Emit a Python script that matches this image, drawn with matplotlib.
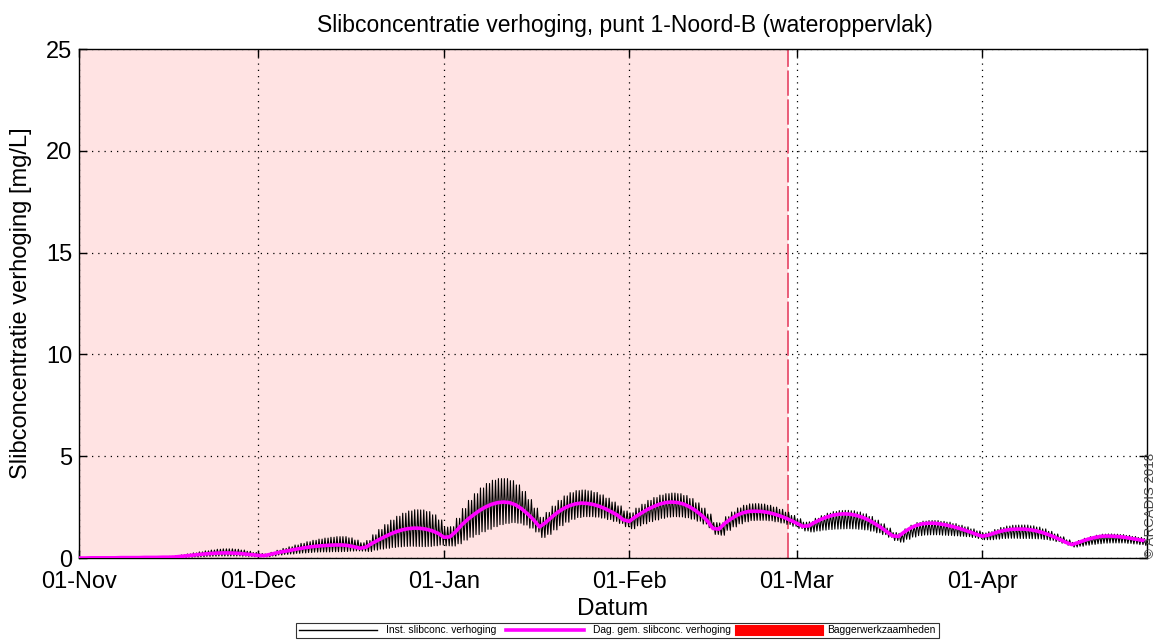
import matplotlib
matplotlib.use('Agg')
import matplotlib.pyplot as plt
import matplotlib.dates as mdates
from matplotlib.lines import Line2D
import numpy as np
import pandas as pd

plt.rcParams['font.family'] = ['Liberation Sans', 'DejaVu Sans']

start = pd.Timestamp('2017-11-01')
dredge_end = pd.Timestamp('2018-02-27 14:00')
x_end = pd.Timestamp('2018-04-28 14:00')

# daglijks gemiddelde slibconcentratie verhoging [mg/L], vanaf 01-Nov
dag_gem = [
    0.00, 0.00, 0.01, 0.01, 0.01, 0.01, 0.01, 0.02, 0.02, 0.02, 0.02, 0.03, 0.03, 0.03, 0.04, 0.04,
    0.05, 0.08, 0.11, 0.14, 0.17, 0.20, 0.22, 0.24, 0.25, 0.25, 0.24, 0.22, 0.19, 0.16, 0.13,
    0.12, 0.18, 0.25, 0.31, 0.36, 0.42, 0.47, 0.52, 0.56, 0.59, 0.61, 0.63, 0.64, 0.64, 0.61, 0.55, 0.48,
    0.54, 0.72, 0.88, 1.03, 1.17, 1.29, 1.38, 1.44, 1.47, 1.46, 1.42, 1.34, 1.22, 1.02,
    1.04, 1.30, 1.63, 1.90, 2.13, 2.34, 2.51, 2.64, 2.72, 2.75, 2.72, 2.61, 2.42, 2.17, 1.88, 1.53,
    1.74, 2.00, 2.24, 2.43, 2.57, 2.66, 2.70, 2.68, 2.63, 2.54, 2.42, 2.27, 2.11, 1.88,
    1.80, 2.02, 2.20, 2.38, 2.52, 2.64, 2.72, 2.75, 2.73, 2.66, 2.53, 2.35, 2.12, 1.85, 1.45,
    1.42, 1.71, 1.92, 2.10, 2.22, 2.29, 2.30, 2.29, 2.25, 2.18, 2.09, 1.98, 1.85, 1.71, 1.56,
    1.58, 1.75, 1.89, 2.01, 2.10, 2.15, 2.17, 2.15, 2.09, 2.00, 1.87, 1.70, 1.52, 1.31, 1.09,
    1.06, 1.28, 1.47, 1.60, 1.68, 1.71, 1.71, 1.67, 1.62, 1.55, 1.47, 1.38, 1.28, 1.17, 1.07,
    1.12, 1.22, 1.31, 1.37, 1.41, 1.42, 1.42, 1.39, 1.34, 1.26, 1.16, 1.04, 0.91, 0.77, 0.66,
    0.75, 0.86, 0.95, 1.02, 1.07, 1.08, 1.07, 1.05, 1.01, 0.96, 0.91, 0.86,
]

# getij-uitslag van de momentane waarde boven het daggemiddelde
getij_boven = [
    0.00, 0.00, 0.01, 0.01, 0.01, 0.01, 0.01, 0.01, 0.02, 0.02, 0.02, 0.02, 0.03, 0.03, 0.03, 0.04,
    0.05, 0.07, 0.09, 0.11, 0.13, 0.15, 0.17, 0.19, 0.20, 0.20, 0.19, 0.17, 0.14, 0.11, 0.09,
    0.08, 0.10, 0.13, 0.16, 0.19, 0.22, 0.25, 0.28, 0.31, 0.34, 0.37, 0.39, 0.41, 0.41, 0.38, 0.33, 0.27,
    0.32, 0.42, 0.52, 0.61, 0.69, 0.76, 0.82, 0.87, 0.90, 0.90, 0.86, 0.78, 0.65, 0.50,
    0.50, 0.65, 0.80, 0.93, 1.03, 1.10, 1.15, 1.18, 1.18, 1.15, 1.08, 0.98, 0.85, 0.70, 0.57, 0.47,
    0.50, 0.55, 0.59, 0.62, 0.64, 0.65, 0.64, 0.62, 0.59, 0.56, 0.52, 0.48, 0.45, 0.43,
    0.42, 0.43, 0.44, 0.45, 0.45, 0.45, 0.44, 0.44, 0.43, 0.41, 0.39, 0.36, 0.33, 0.31, 0.29,
    0.30, 0.32, 0.34, 0.36, 0.37, 0.37, 0.37, 0.36, 0.34, 0.32, 0.30, 0.27, 0.24, 0.22, 0.20,
    0.20, 0.20, 0.19, 0.19, 0.18, 0.18, 0.17, 0.17, 0.17, 0.17, 0.17, 0.16, 0.16, 0.16, 0.16,
    0.15, 0.15, 0.14, 0.14, 0.13, 0.13, 0.13, 0.13, 0.14, 0.14, 0.14, 0.15, 0.15, 0.16, 0.16,
    0.17, 0.18, 0.19, 0.20, 0.20, 0.20, 0.20, 0.19, 0.18, 0.17, 0.15, 0.14, 0.13, 0.12, 0.11,
    0.11, 0.11, 0.10, 0.10, 0.10, 0.10, 0.10, 0.10, 0.10, 0.10, 0.10, 0.10,
]

# getij-uitslag van de momentane waarde onder het daggemiddelde
getij_onder = [
    0.00, 0.00, 0.00, 0.01, 0.01, 0.01, 0.01, 0.01, 0.01, 0.01, 0.02, 0.02, 0.02, 0.02, 0.02, 0.03,
    0.03, 0.05, 0.07, 0.09, 0.11, 0.12, 0.13, 0.14, 0.15, 0.15, 0.14, 0.13, 0.11, 0.09, 0.07,
    0.06, 0.08, 0.10, 0.13, 0.16, 0.19, 0.22, 0.25, 0.27, 0.29, 0.31, 0.32, 0.33, 0.32, 0.27, 0.20, 0.14,
    0.22, 0.33, 0.44, 0.55, 0.65, 0.74, 0.81, 0.86, 0.90, 0.90, 0.85, 0.74, 0.58, 0.42,
    0.45, 0.60, 0.75, 0.88, 0.98, 1.05, 1.10, 1.10, 1.08, 1.05, 0.98, 0.90, 0.80, 0.70, 0.60, 0.52,
    0.58, 0.62, 0.65, 0.67, 0.67, 0.67, 0.67, 0.65, 0.62, 0.58, 0.53, 0.47, 0.41, 0.34,
    0.36, 0.44, 0.52, 0.59, 0.65, 0.69, 0.71, 0.72, 0.71, 0.68, 0.62, 0.54, 0.45, 0.36, 0.29,
    0.30, 0.35, 0.39, 0.42, 0.44, 0.45, 0.45, 0.44, 0.42, 0.40, 0.37, 0.33, 0.29, 0.26, 0.23,
    0.30, 0.42, 0.52, 0.61, 0.68, 0.72, 0.73, 0.72, 0.68, 0.62, 0.55, 0.46, 0.37, 0.29, 0.23,
    0.28, 0.36, 0.44, 0.50, 0.55, 0.57, 0.57, 0.55, 0.51, 0.46, 0.40, 0.33, 0.27, 0.21, 0.17,
    0.22, 0.29, 0.35, 0.40, 0.44, 0.46, 0.46, 0.44, 0.40, 0.35, 0.29, 0.23, 0.18, 0.14, 0.12,
    0.17, 0.23, 0.28, 0.32, 0.34, 0.34, 0.33, 0.31, 0.29, 0.27, 0.25, 0.24,
]

# tijdstippen (uur) van hoog- en laagwaarde binnen een dag
getij_uren = [3.0, 9.2, 15.4, 21.6]

maand_ticks = pd.date_range('2017-11-01', '2018-04-01', freq='MS')

gem = np.array(dag_gem)
hoog = gem + np.array(getij_boven)
laag = np.clip(gem - np.array(getij_onder), 0, None)
dagen = np.arange(len(gem))

t0 = mdates.date2num(start)
t_dag = t0 + dagen
t_inst = (t0 + dagen[:, None] + np.array(getij_uren)[None, :] / 24.0).ravel()
v_inst = np.stack([hoog, laag, hoog, laag], axis=1).ravel()

fig = plt.figure(figsize=(11.57, 6.44), dpi=100)
ax = fig.add_axes([0.0683, 0.1335, 0.9231, 0.7904])

ax.axvspan(start, dredge_end, facecolor='red', alpha=0.11, edgecolor='none', zorder=0)
ax.axvline(dredge_end, color='#e8506e', lw=1.3, dashes=(14, 2), zorder=1)

ax.plot(t_inst, v_inst, color='black', lw=0.8, zorder=3)
ax.plot(t_dag, gem, color='#ff00ff', lw=2.6, zorder=4)

ax.set_xlim(start, x_end)
ax.set_ylim(0, 25)
ax.set_yticks([0, 5, 10, 15, 20, 25])
ax.set_xticks(maand_ticks)
ax.xaxis.set_major_formatter(mdates.DateFormatter('%d-%b'))
ax.grid(True, color='black', linestyle=(0, (1, 4)), linewidth=0.9)
ax.tick_params(direction='in', length=6, width=1, top=True, right=True,
               labelsize=17)
ax.tick_params(axis='x', pad=9)
ax.tick_params(axis='y', pad=5)
for sp in ax.spines.values():
    sp.set_linewidth(1.0)

ax.set_title('Slibconcentratie verhoging, punt 1-Noord-B (wateroppervlak)',
             fontsize=16.5, pad=12, x=0.511)
ax.set_xlabel('Datum', fontsize=17.5, labelpad=4)
ax.set_ylabel('Slibconcentratie verhoging [mg/L]', fontsize=17)
ax.yaxis.set_label_coords(-0.044, 0.5)

fig.text(1.0, 0.133, '\u00a9 ARCADIS 2018', rotation=90, fontsize=9.5,
         color='#444444', ha='right', va='bottom')

handles = [
    Line2D([], [], color='black', lw=1.0),
    Line2D([], [], color='#ff00ff', lw=2.6),
    Line2D([], [], color='red', lw=8),
]
labels = ['Inst. slibconc. verhoging', 'Dag. gem. slibconc. verhoging', 'Baggerwerkzaamheden']
leg = ax.legend(handles, labels, loc='upper center', bbox_to_anchor=(0.504, -0.127),
                ncol=3, fontsize=7.4, frameon=True, fancybox=False, handlelength=7.6,
                columnspacing=0.9, handletextpad=0.9, borderpad=0.25, borderaxespad=0)
leg.get_frame().set_edgecolor('black')
leg.get_frame().set_linewidth(0.8)

fig.savefig('out.png', dpi=100)
